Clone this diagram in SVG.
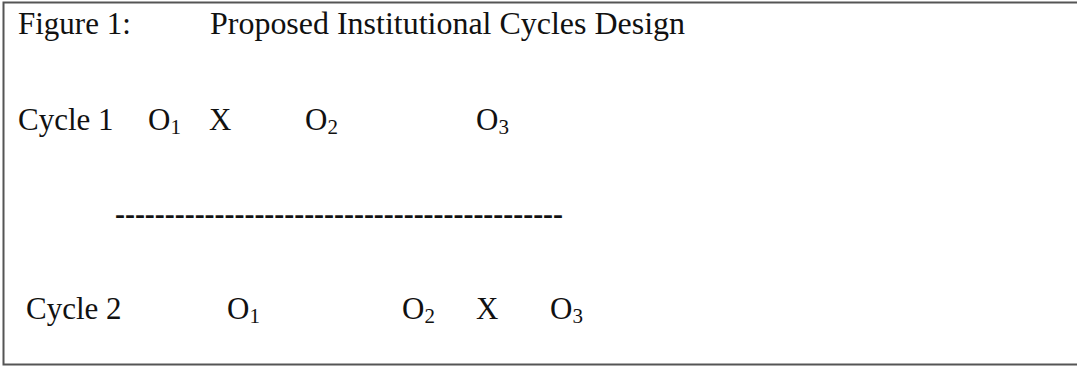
<svg xmlns="http://www.w3.org/2000/svg" width="1077" height="367" viewBox="0 0 1077 367">
<style>
.t{font-family:"Liberation Serif","Times New Roman",serif;font-size:31px;fill:#111}
.s{font-size:21px}
.d{font-weight:bold}
</style>
<rect x="0" y="0" width="1077" height="367" fill="#fff"/>
<rect x="3.5" y="2.5" width="1080" height="362" fill="none" stroke="#555" stroke-width="2"/>
<g id="title">
<text class="t" x="18" y="34">Figure 1:</text>
<text class="t" x="210" y="34" textLength="475" lengthAdjust="spacingAndGlyphs">Proposed Institutional Cycles Design</text>
</g>
<g id="cycle1">
<text class="t" x="18" y="130">Cycle 1</text>
<text class="t" x="148" y="130">O<tspan class="s" dy="4">1</tspan></text>
<text class="t" x="209" y="130">X</text>
<text class="t" x="305" y="130">O<tspan class="s" dy="4">2</tspan></text>
<text class="t" x="476" y="130">O<tspan class="s" dy="4">3</tspan></text>
</g>
<g id="divider">
<text class="t d" x="115" y="224" textLength="448" lengthAdjust="spacingAndGlyphs">---------------------------------------------</text>
</g>
<g id="cycle2">
<text class="t" x="26" y="319">Cycle 2</text>
<text class="t" x="227" y="319">O<tspan class="s" dy="4">1</tspan></text>
<text class="t" x="402" y="319">O<tspan class="s" dy="4">2</tspan></text>
<text class="t" x="476" y="319">X</text>
<text class="t" x="550" y="319">O<tspan class="s" dy="4">3</tspan></text>
</g>
</svg>
